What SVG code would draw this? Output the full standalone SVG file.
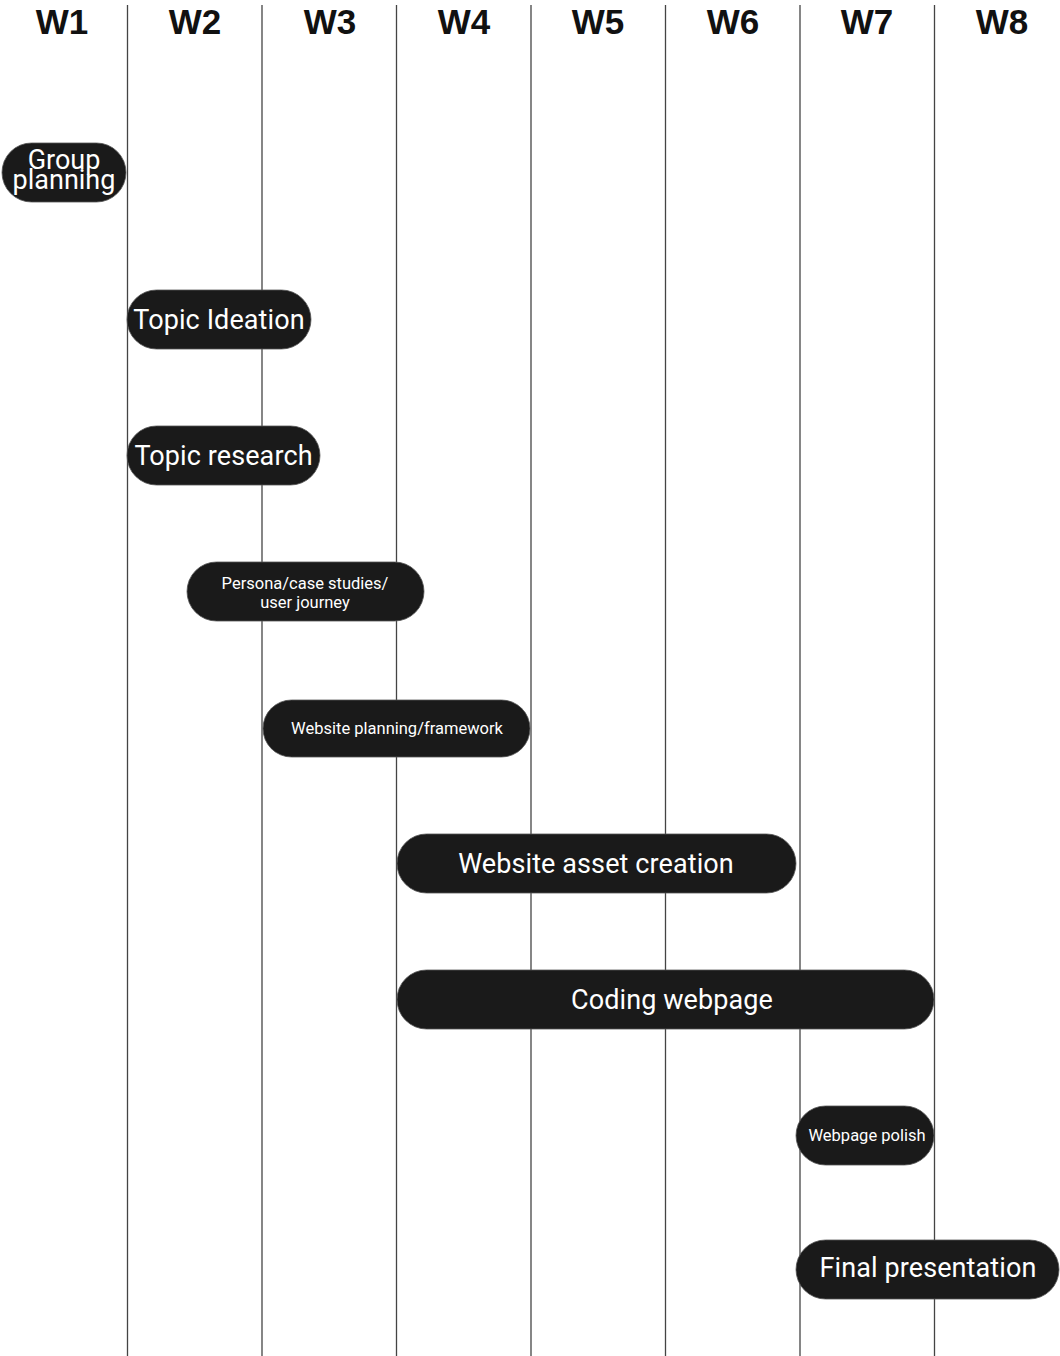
<svg xmlns="http://www.w3.org/2000/svg" width="1060" height="1356" viewBox="0 0 1060 1356">
<style>
.grid line{stroke:#444;stroke-width:1.3}
.hd{font-family:"Liberation Sans",Arial,sans-serif;font-weight:bold;font-size:35px;fill:#111;text-anchor:middle}
.pill{fill:#1a1a1a;stroke:#555;stroke-width:0.8}
.t{font-family:Roboto,"Liberation Sans",sans-serif;fill:#fff;text-anchor:middle;dominant-baseline:central}
.L{font-size:27px;letter-spacing:0.1px}.M{font-size:27px}.S{font-size:16.5px}
</style>
<rect width="1060" height="1356" fill="#fff"/>
<g id="headers">
<text class="hd" x="62" y="34">W1</text>
<text class="hd" x="195" y="34">W2</text>
<text class="hd" x="330" y="34">W3</text>
<text class="hd" x="464" y="34">W4</text>
<text class="hd" x="598" y="34">W5</text>
<text class="hd" x="733" y="34">W6</text>
<text class="hd" x="867" y="34">W7</text>
<text class="hd" x="1002" y="34">W8</text>
</g>
<g id="connectors" class="grid">
<line x1="127.5" y1="5" x2="127.5" y2="1356"/>
<line x1="262" y1="5" x2="262" y2="1356"/>
<line x1="396.5" y1="5" x2="396.5" y2="1356"/>
<line x1="531" y1="5" x2="531" y2="1356"/>
<line x1="665.5" y1="5" x2="665.5" y2="1356"/>
<line x1="800" y1="5" x2="800" y2="1356"/>
<line x1="934.5" y1="5" x2="934.5" y2="1356"/>
</g>
<g id="group-planning"><rect class="pill" x="2" y="143" width="124" height="59" rx="29.5"/>
<text class="t M" x="64" y="160">Group</text><text class="t M" x="64" y="180">planning</text></g>
<g id="topic-ideation"><rect class="pill" x="127" y="290" width="184" height="59" rx="29.5"/>
<text class="t L" x="219" y="319.5">Topic Ideation</text></g>
<g id="topic-research"><rect class="pill" x="127" y="426" width="193" height="59" rx="29.5"/>
<text class="t L" x="223.5" y="455.5">Topic research</text></g>
<g id="persona"><rect class="pill" x="187" y="562" width="237" height="59" rx="29.5"/>
<text class="t S" x="305" y="583">Persona/case studies/</text><text class="t S" x="305" y="602.5">user journey</text></g>
<g id="website-planning"><rect class="pill" x="263" y="700" width="267" height="57" rx="28.5"/>
<text class="t S" x="397" y="728.5">Website planning/framework</text></g>
<g id="website-asset"><rect class="pill" x="397" y="834" width="399" height="59" rx="29.5"/>
<text class="t L" x="596" y="863.5">Website asset creation</text></g>
<g id="coding-webpage"><rect class="pill" x="397" y="970" width="537" height="59" rx="29.5"/>
<text class="t L" x="672" y="999.5">Coding webpage</text></g>
<g id="webpage-polish"><rect class="pill" x="796" y="1106" width="138" height="59" rx="29.5"/>
<text class="t S" x="867" y="1135.5">Webpage polish</text></g>
<g id="final-presentation"><rect class="pill" x="796" y="1240" width="263" height="59" rx="29.5"/>
<text class="t L" x="928" y="1267.5">Final presentation</text></g>
</svg>
